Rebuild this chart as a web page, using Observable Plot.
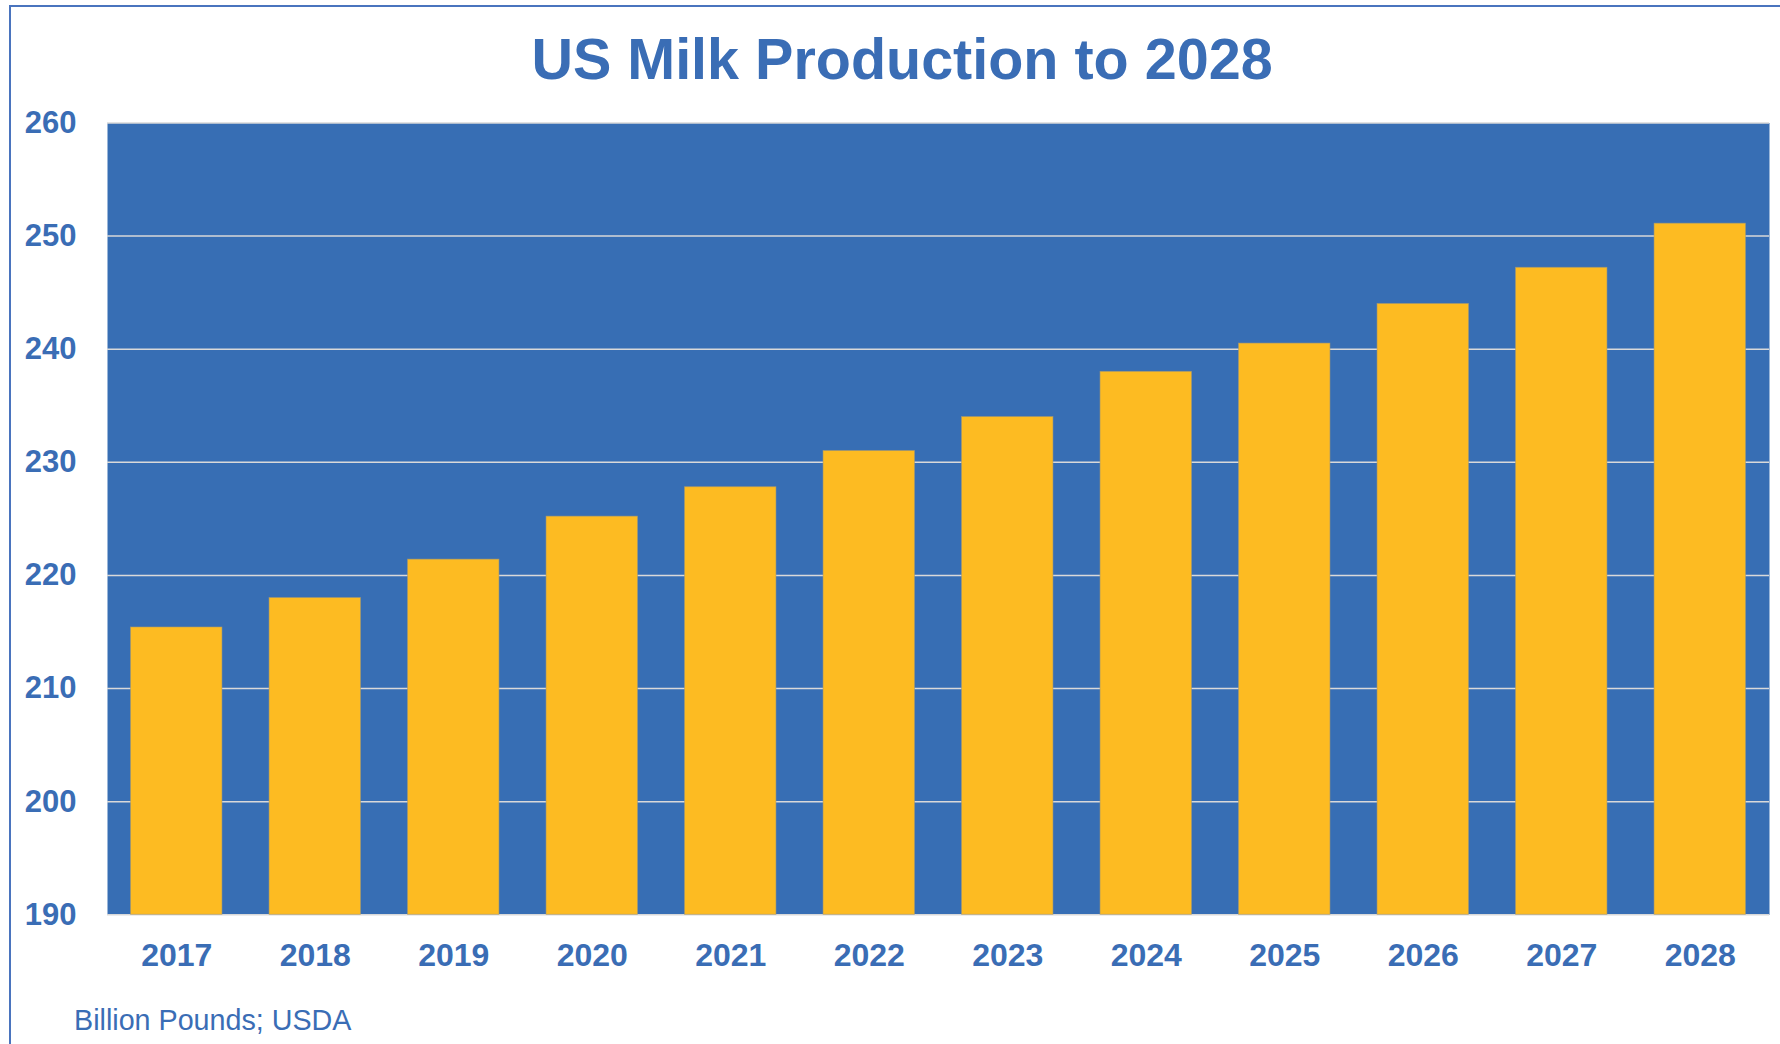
<!DOCTYPE html>
<html>
<head>
<meta charset="utf-8">
<script src="https://cdn.jsdelivr.net/npm/d3@7"></script>
<script src="https://cdn.jsdelivr.net/npm/@observablehq/plot@0.6"></script>
<style>
  html, body { margin: 0; padding: 0; background: #ffffff; overflow: hidden; }
  body { width: 1780px; height: 1044px; position: relative; font-family: "Liberation Sans", Arial, sans-serif; }
  #border { position: absolute; left: 9px; top: 5px; width: 1800px; height: 1100px;
            border-left: 2px solid #4A74BE; border-top: 2px solid #4A74BE; box-sizing: border-box; pointer-events: none; }
  #title { height: 105px; box-sizing: border-box; padding-top: 30px; padding-left: 24px; text-align: center;
           font-size: 57.5px; line-height: 58px; font-weight: bold; color: #3A6DB5; }
  #chart { height: 895px; }
  #caption { margin-top: 6px; padding-left: 74px; font-size: 28.7px; line-height: 28px; color: #3A6DB5; }
</style>
</head>
<body>
<div id="border"></div>
<div id="title">US Milk Production to 2028</div>
<div id="chart"></div>
<div id="caption">Billion Pounds; USDA</div>
<script>
const years = ["2017","2018","2019","2020","2021","2022","2023","2024","2025","2026","2027","2028"];
const production = [215.4, 218.0, 221.4, 225.2, 227.8, 231.0, 234.0, 238.0, 240.5, 244.0, 247.2, 251.1];
const yTicks = [190, 200, 210, 220, 230, 240, 250, 260];

const data = years.map((y, i) => ({year: y, value: production[i]}));
const textColor = "#3A6DB5";

const chart = Plot.plot({
  width: 1780,
  height: 895,
  marginTop: 17.5,
  marginBottom: 85.7,
  marginLeft: 107,
  marginRight: 11,
  style: {fontFamily: "'Liberation Sans', Arial, sans-serif", background: "transparent", overflow: "visible"},
  x: {domain: years, paddingInner: 0.34, paddingOuter: 0.17, round: false, label: null},
  y: {domain: [190, 260], label: null},
  marks: [
    Plot.frame({fill: "#376EB4", stroke: null}),
    Plot.ruleY(yTicks, {stroke: "#D9D9D9", strokeWidth: 1.5}),
    Plot.barY(data, {x: "year", y1: 190, y2: "value", fill: "#FDBB22", stroke: "#A89A70", strokeWidth: 0.8, strokeOpacity: 0.7}),
    Plot.axisY(yTicks, {tickSize: 0, tickPadding: 31, fontSize: 31, fontWeight: "bold", fill: textColor, label: null}),
    Plot.axisX({tickSize: 0, tickPadding: 28, fontSize: 32, fontWeight: "bold", fill: textColor, label: null})
  ]
});
document.getElementById("chart").appendChild(chart);
</script>
</body>
</html>
